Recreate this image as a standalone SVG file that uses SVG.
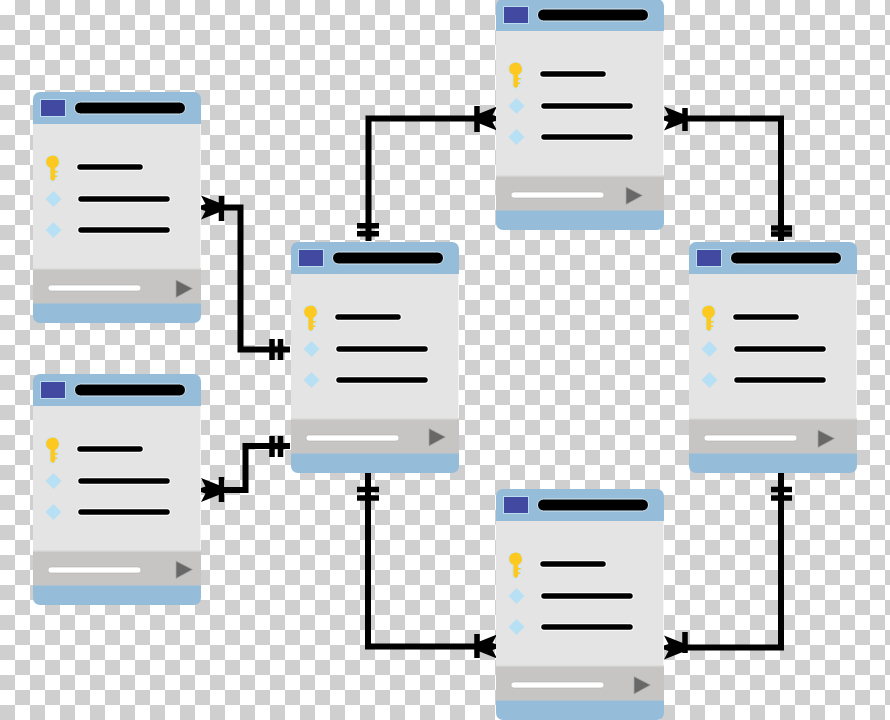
<svg xmlns="http://www.w3.org/2000/svg" width="890" height="720" viewBox="0 0 890 720">
<style>
.ln{stroke:#000;fill:none;stroke-width:6;stroke-linejoin:miter;stroke-linecap:butt}
.tick{stroke:#000;fill:none;stroke-width:5.500}
.bl{stroke:#000;stroke-width:5.500;stroke-linecap:round;fill:none}
.hl{stroke:#fff;stroke-width:7.500;stroke-linecap:round;fill:none}
.tri{fill:#686868;stroke:#a8a8a8;stroke-width:.8}
</style>
<defs>
<pattern id="chk" width="30" height="30" patternUnits="userSpaceOnUse">
<rect width="30" height="30" fill="#fff"/>
<rect x="15" y="0" width="15" height="15" fill="#cfcfcf"/>
<rect x="0" y="15" width="15" height="15" fill="#cfcfcf"/>
</pattern>
<g id="card">
<rect x="0" y="0" width="168" height="231" rx="7" fill="#95bdd9"/>
<rect x="0" y="32" width="168" height="145" fill="#e4e4e4"/>
<rect x="167" y="32" width="1" height="145" fill="#f4f4f4"/>
<rect x="0" y="176" width="168" height="2" fill="#dcdcda"/>
<rect x="0" y="177.500" width="168" height="34" fill="#c6c5c3"/>
<rect x="7.500" y="7.500" width="25" height="17" fill="#4149a1" stroke="#bcdcf0" stroke-width="1"/>
<rect x="41.500" y="10" width="111" height="12" rx="6" fill="#000" stroke="#d5e6f2" stroke-width="1"/>
<path d="M12.500 70a7 7 0 1 1 10.300 6.200V78.500h2.500v2.500h-2.500v2h2v2.500h-2v2l-3 2.500-3-2.500V76.200A7 7 0 0 1 12.500 70z" fill="#fdc921" stroke="#cfe6f4" stroke-width="1.200"/>
<path d="M20.500 99 L28.500 107 L20.500 115 L12.500 107Z M20.500 130 L28.500 138 L20.500 146 L12.500 138Z" fill="#b7e0f4"/>
<path class="hl" d="M47 75H107M48 107H134M48 138H134"/>
<path class="bl" d="M47 75H107M48 107H134M48 138H134"/>
<rect x="15" y="193" width="93" height="6" rx="3" fill="#fff" stroke="#b0b0ae" stroke-width=".6"/>
</g>
<path id="tr" d="M0 0L16.500 8.500 0 17.500Z"/>
<path id="crow" fill="#000" d="M0 -12L20 -4V4L0 12L4.500 3.500L0 2V-2L4.500 -3.500Z"/>
</defs>
<rect width="890" height="720" fill="url(#chk)"/>
<g id="connectors">
<path class="ln" d="M215 207.500H240.500V349.500H290"/>
<use href="#crow" x="201" y="207.500"/>
<path class="tick" d="M221.500 196V221M272 339V360M280.500 339V360"/>
<path class="ln" d="M215 490H245.500V446H290"/>
<use href="#crow" x="201" y="490"/>
<path class="tick" d="M221.500 477V502M272 436V457M280.500 436V457"/>
<path class="ln" d="M368.500 241V118.500H480"/>
<use href="#crow" transform="translate(497 118.500) scale(-1 1)"/>
<path class="tick" d="M477 106V132M357 225.700H379M357 233.700H379"/>
<path class="ln" d="M670 118.500H781V241"/>
<use href="#crow" x="664" y="118.500"/>
<path class="tick" d="M685 108V131M771 228H792M771 234H792"/>
<path class="ln" d="M368 473V646.500H480"/>
<use href="#crow" transform="translate(497 646.500) scale(-1 1)"/>
<path class="tick" d="M477 634V658M357 489.500H379M357 498H379"/>
<path class="ln" d="M781 473V647.500H670"/>
<use href="#crow" x="664" y="647.500"/>
<path class="tick" d="M685 632V653M771 489.500H792M771 498H792"/>
</g>
<g id="node-a"><use href="#card" x="33" y="92"/><use href="#tr" class="tri" x="176" y="280"/></g>
<g id="node-b"><use href="#card" x="33" y="374"/><use href="#tr" class="tri" x="176" y="561"/></g>
<g id="node-c"><use href="#card" x="291" y="242"/><use href="#tr" class="tri" x="429" y="428.500"/></g>
<g id="node-d"><use href="#card" x="496" y="-1"/><use href="#tr" class="tri" x="626" y="187"/></g>
<g id="node-e"><use href="#card" x="689" y="242"/><use href="#tr" class="tri" x="818" y="430"/></g>
<g id="node-f"><use href="#card" x="496" y="489"/><use href="#tr" class="tri" x="634" y="676.500"/></g>
</svg>
